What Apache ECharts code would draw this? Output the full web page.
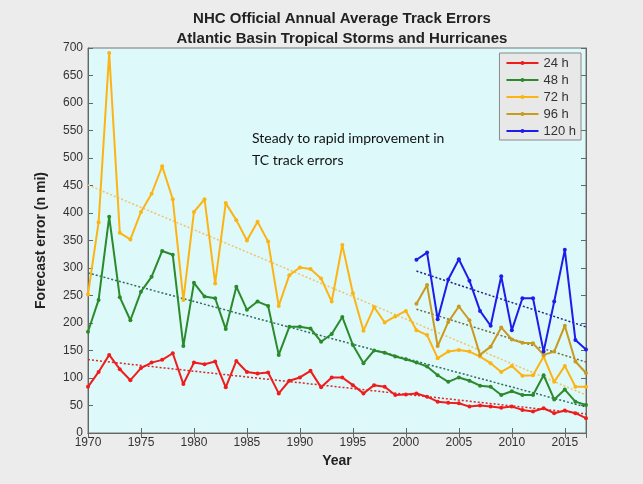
<!DOCTYPE html>
<html>
<head>
<meta charset="utf-8">
<script src="https://cdn.jsdelivr.net/npm/echarts@6/dist/echarts.min.js"></script>
<style>
html, body { margin: 0; padding: 0; background: #ececec; }
#chart { width: 643px; height: 484px; }
</style>
</head>
<body>
<div id="chart"></div>
<script>
// data
var years = [1970, 1971, 1972, 1973, 1974, 1975, 1976, 1977, 1978, 1979,
    1980, 1981, 1982, 1983, 1984, 1985, 1986, 1987, 1988, 1989,
    1990, 1991, 1992, 1993, 1994, 1995, 1996, 1997, 1998, 1999,
    2000, 2001, 2002, 2003, 2004, 2005, 2006, 2007, 2008, 2009,
    2010, 2011, 2012, 2013, 2014, 2015, 2016, 2017];
var years5day = [2001, 2002, 2003, 2004, 2005, 2006, 2007, 2008, 2009,
    2010, 2011, 2012, 2013, 2014, 2015, 2016, 2017];

var err24 = [84, 111, 142, 116, 96, 118, 128, 133, 145, 89,
    128, 125, 130, 83, 131, 111, 108, 110, 72, 95,
    101, 113, 83, 101, 101, 87, 72, 87, 84, 69,
    70, 72, 66, 57, 55, 54, 48, 50, 48, 46,
    48, 42, 39, 45, 36, 41, 36, 27];
var err48 = [184, 242, 393, 247, 205, 257, 284, 331, 324, 158,
    273, 248, 245, 189, 266, 224, 239, 231, 142, 193,
    193, 190, 166, 180, 211, 160, 127, 150, 146, 139,
    134, 128, 121, 105, 93, 101, 95, 86, 84, 69,
    76, 69, 69, 105, 61, 79, 57, 51];
var err72 = [252, 383, 691, 364, 352, 402, 435, 485, 425, 242,
    402, 425, 272, 418, 387, 350, 384, 348, 231, 287,
    301, 298, 281, 239, 342, 254, 186, 229, 201, 212,
    222, 187, 178, 136, 148, 151, 148, 139, 127, 111,
    122, 104, 105, 139, 93, 122, 84, 84];
var err96 = [235, 269, 158, 202, 230, 205, 142, 157, 192, 170, 164, 163, 142, 148, 195, 130, 109];
var err120 = [315, 328, 207, 279, 316, 277, 222, 195, 285, 187, 245, 245, 148, 239, 333, 169, 152];

var names = ['24 h', '48 h', '72 h', '96 h', '120 h'];
var yTicks = [0, 700, 50];

var colors = ['#f01c1c', '#2b8a2b', '#fcb414', '#c89a1e', '#1c1cec'];
var trendColors = ['#d62828', '#2f6e5c', '#f3c26a', '#6e6a3c', '#22228e'];

function pairs(xs, ys) {
    return xs.map(function (x, i) { return [x, ys[i]]; });
}

// least squares trend, drawn over the span of the data
function trend(xs, ys) {
    var n = xs.length, sx = 0, sy = 0, sxx = 0, sxy = 0;
    for (var i = 0; i < n; i++) {
        sx += xs[i]; sy += ys[i]; sxx += xs[i] * xs[i]; sxy += xs[i] * ys[i];
    }
    var b = (n * sxy - sx * sy) / (n * sxx - sx * sx);
    var a = (sy - b * sx) / n;
    var x0 = xs[0], x1 = xs[n - 1];
    return [[x0, a + b * x0], [x1, a + b * x1]];
}

var sets = [
    [years, err24], [years, err48], [years, err72],
    [years5day, err96], [years5day, err120]
];

var series = [];
sets.forEach(function (s, i) {
    series.push({
        name: names[i] + ' trend',
        type: 'line',
        data: trend(s[0], s[1]),
        symbol: 'none',
        silent: true,
        lineStyle: { color: trendColors[i], width: 1.5, type: [2, 2] },
        z: 1
    });
});
sets.forEach(function (s, i) {
    series.push({
        name: names[i],
        type: 'line',
        data: pairs(s[0], s[1]),
        symbol: 'circle',
        symbolSize: 4,
        color: colors[i],
        lineStyle: { width: 2 },
        z: 3
    });
});

var font = 'Liberation Sans, Arial, sans-serif';
var chart = echarts.init(document.getElementById('chart'));

chart.setOption({
    backgroundColor: '#ececec',
    animation: false,
    textStyle: { fontFamily: font },
    title: {
        text: 'NHC Official Annual Average Track Errors\nAtlantic Basin Tropical Storms and Hurricanes',
        left: 337,
        textAlign: 'center',
        top: 4,
        textStyle: { fontSize: 15, fontWeight: 'bold', color: '#222', lineHeight: 20, fontFamily: font }
    },
    legend: {
        data: names,
        orient: 'vertical',
        right: 62,
        top: 53,
        itemWidth: 32,
        itemHeight: 5,
        itemGap: 3,
        padding: [3, 5, 2, 6],
        backgroundColor: '#e8e8e8',
        borderColor: '#8a8a8a',
        borderWidth: 1,
        textStyle: { fontSize: 13, lineHeight: 14, color: '#333', fontFamily: font }
    },
    grid: {
        left: 88, right: 57, top: 48, bottom: 51,
        show: true,
        backgroundColor: '#ddf9fa',
        borderColor: '#777',
        borderWidth: 1
    },
    graphic: [{
        type: 'text',
        left: 252,
        top: 127,
        style: {
            text: 'Steady to rapid improvement in\nTC track errors',
            font: '14px Lato, sans-serif',
            lineHeight: 22,
            fill: '#111'
        },
        z: 10
    }],
    xAxis: [{
        type: 'value',
        min: years[0],
        max: years[years.length - 1],
        interval: 5,
        name: 'Year',
        nameLocation: 'middle',
        nameGap: 21,
        nameTextStyle: { fontSize: 14, fontWeight: 'bold', color: '#222' },
        axisLine: { lineStyle: { color: '#666' } },
        axisTick: { inside: true, length: 5, lineStyle: { color: '#666' } },
        axisLabel: {
            color: '#333', fontSize: 12, margin: 4, showMaxLabel: false,
            formatter: function (v) { return String(v); }
        },
        splitLine: { show: false }
    }, {
        type: 'value',
        position: 'top',
        min: years[0],
        max: years[years.length - 1],
        interval: 5,
        axisLine: { lineStyle: { color: '#666' } },
        axisTick: { inside: true, length: 5, lineStyle: { color: '#666' } },
        axisLabel: { show: false },
        splitLine: { show: false }
    }],
    yAxis: [{
        type: 'value',
        min: yTicks[0],
        max: yTicks[1],
        interval: yTicks[2],
        name: 'Forecast error (n mi)',
        nameLocation: 'middle',
        nameGap: 40,
        nameTextStyle: { fontSize: 14, fontWeight: 'bold', color: '#222' },
        axisLine: { show: true, lineStyle: { color: '#666' } },
        axisTick: { show: true, inside: true, length: 5, lineStyle: { color: '#666' } },
        axisLabel: { color: '#333', fontSize: 12, margin: 5 },
        splitLine: { show: false }
    }, {
        type: 'value',
        position: 'right',
        min: yTicks[0],
        max: yTicks[1],
        interval: yTicks[2],
        axisLine: { show: true, lineStyle: { color: '#666' } },
        axisTick: { show: true, inside: true, length: 5, lineStyle: { color: '#666' } },
        axisLabel: { show: false },
        splitLine: { show: false }
    }],
    series: series
});
</script>
</body>
</html>
